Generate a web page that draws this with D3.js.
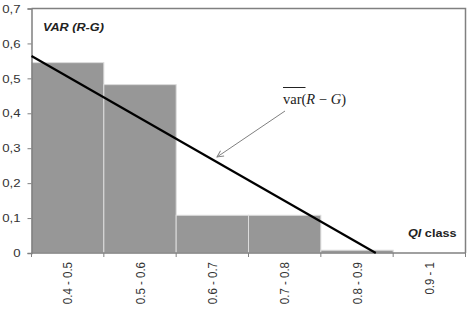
<!DOCTYPE html>
<html>
<head>
<meta charset="utf-8">
<script src="https://cdn.jsdelivr.net/npm/d3@7"></script>
<style>
  body { margin: 0; background: #fff; }
</style>
</head>
<body>
<div id="chart"></div>
<script>
// data
var classes = ["0.4 - 0.5", "0.5 - 0.6", "0.6 - 0.7", "0.7 - 0.8", "0.8 - 0.9", "0.9 - 1"];
var varRG = [0.545, 0.482, 0.108, 0.108, 0.008, 0];
var yTicks = [0, 0.1, 0.2, 0.3, 0.4, 0.5, 0.6, 0.7];

var width = 469, height = 310;
var plotLeft = 31.5, plotRight = 465.5, plotTop = 8.5, plotBottom = 253;
var sx = 1.15; // the original text is a bit stretched sideways
var sans = "Liberation Sans, Arial, sans-serif";

var svg = d3.select("#chart").append("svg")
    .attr("width", width)
    .attr("height", height)
    .style("font-family", sans);

var x = d3.scaleBand().domain(classes).range([plotLeft, plotRight]).padding(0);
var y = d3.scaleLinear().domain([0, 0.7]).range([plotBottom, plotTop]);

// bars
svg.selectAll("rect.bar")
    .data(varRG)
    .enter()
    .append("rect")
    .attr("class", "bar")
    .attr("x", function(d, i) { return x(classes[i]); })
    .attr("width", x.bandwidth())
    .attr("y", function(d) { return y(d); })
    .attr("height", function(d) { return plotBottom - y(d); })
    .attr("fill", "#979797")
    .attr("stroke", "#dcdcdc")
    .attr("stroke-width", function(d) { return d > 0 ? 1 : 0; });

// plot frame (top and right)
svg.append("path")
    .attr("d", "M" + plotLeft + "," + plotTop + "H" + plotRight + "V" + plotBottom)
    .attr("fill", "none")
    .attr("stroke", "#808080")
    .attr("stroke-width", 1.5);

// y axis
var yAxis = svg.append("g")
    .attr("transform", "translate(" + plotLeft + ",0)")
    .call(d3.axisLeft(y)
        .tickValues(yTicks)
        .tickSize(4)
        .tickPadding(7)
        .tickFormat(function(d) { return d === 0 ? "0" : d3.format(".1f")(d).replace(".", ","); }));
yAxis.select(".domain").attr("stroke", "#808080").attr("stroke-width", 1.5);
yAxis.selectAll(".tick line").attr("stroke", "#808080");
yAxis.selectAll(".tick text")
    .attr("font-size", 11.5)
    .attr("fill", "#333")
    .attr("font-family", sans)
    .attr("transform", "translate(-11,0) scale(" + sx + ",1) translate(11,0)");

// x axis: line, boundary ticks, rotated labels
svg.append("line")
    .attr("x1", plotLeft).attr("x2", plotRight)
    .attr("y1", plotBottom).attr("y2", plotBottom)
    .attr("stroke", "#808080").attr("stroke-width", 1.5);

var bounds = classes.map(function(c) { return x(c); }).concat([plotRight]);
svg.selectAll("line.xtick")
    .data(bounds)
    .enter()
    .append("line")
    .attr("class", "xtick")
    .attr("x1", function(d) { return d; }).attr("x2", function(d) { return d; })
    .attr("y1", plotBottom).attr("y2", plotBottom + 4)
    .attr("stroke", "#808080");

svg.selectAll("text.xlab")
    .data(classes)
    .enter()
    .append("text")
    .attr("class", "xlab")
    .attr("transform", function(d) {
        return "translate(" + (x(d) + x.bandwidth() / 2) + "," + (plotBottom + 9) + ") scale(" + sx + ",1) rotate(-90)";
    })
    .attr("text-anchor", "end")
    .attr("dy", "0.35em")
    .attr("font-size", 11.5)
    .attr("fill", "#333")
    .text(function(d) { return d; });

// linear trend line through the bars (least squares on class index, like the spreadsheet trendline)
var idx = varRG.map(function(d, i) { return i + 1; });
var mx = d3.mean(idx), my = d3.mean(varRG);
var slope = d3.sum(idx, function(v, i) { return (v - mx) * (varRG[i] - my); }) /
            d3.sum(idx, function(v) { return (v - mx) * (v - mx); });
var icpt = my - slope * mx;
var xPos = d3.scaleLinear().domain([0.5, 6.5]).range([plotLeft, plotRight]);
var xStart = 0.5, xEnd = -icpt / slope;
svg.append("line")
    .attr("x1", xPos(xStart)).attr("y1", y(icpt + slope * xStart))
    .attr("x2", xPos(xEnd)).attr("y2", y(0))
    .attr("stroke", "#000")
    .attr("stroke-width", 2.2);

// arrow annotation
svg.append("defs").append("marker")
    .attr("id", "arr")
    .attr("viewBox", "0 0 10 10")
    .attr("refX", 9).attr("refY", 5)
    .attr("markerWidth", 8).attr("markerHeight", 8)
    .attr("orient", "auto")
    .append("path")
    .attr("d", "M1,1L9,5L1,9")
    .attr("fill", "none")
    .attr("stroke", "#808080")
    .attr("stroke-width", 1.2);

svg.append("line")
    .attr("x1", 285).attr("y1", 111)
    .attr("x2", 217).attr("y2", 157)
    .attr("stroke", "#808080")
    .attr("stroke-width", 1)
    .attr("marker-end", "url(#arr)");

var ann = svg.append("text")
    .attr("x", 283).attr("y", 104)
    .style("font-family", "Liberation Serif, Times New Roman, serif")
    .attr("font-size", 14.5)
    .attr("fill", "#222");
ann.append("tspan").text("var");
ann.append("tspan").text("(");
ann.append("tspan").text("R").attr("font-style", "italic");
ann.append("tspan").text(" \u2212 ");
ann.append("tspan").text("G").attr("font-style", "italic");
ann.append("tspan").text(")");
svg.append("line")
    .attr("x1", 283).attr("x2", 305.5)
    .attr("y1", 87.5).attr("y2", 87.5)
    .attr("stroke", "#222").attr("stroke-width", 1);

// axis titles
svg.append("text")
    .attr("transform", "translate(43,31) scale(" + sx + ",1)")
    .attr("font-size", 11)
    .attr("font-weight", "bold")
    .attr("font-style", "italic")
    .attr("fill", "#222")
    .text("VAR (R-G)");

var qt = svg.append("text")
    .attr("transform", "translate(408,237) scale(" + sx + ",1)")
    .attr("font-size", 11)
    .attr("font-weight", "bold")
    .attr("fill", "#222");
qt.append("tspan").text("QI").attr("font-style", "italic");
qt.append("tspan").text(" class");
</script>
</body>
</html>
